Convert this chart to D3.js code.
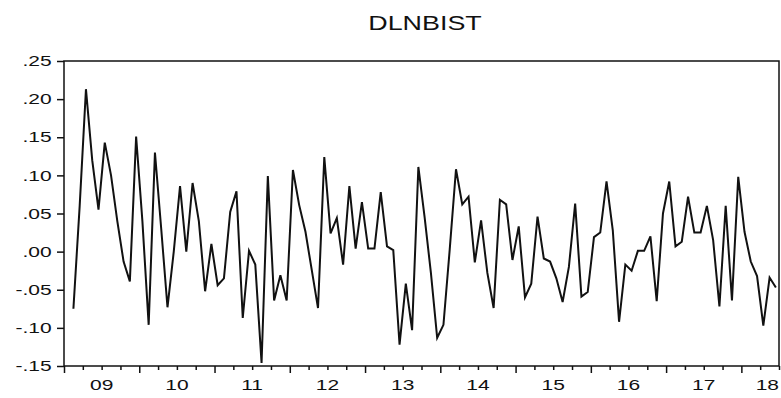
<!DOCTYPE html>
<html>
<head>
<meta charset="utf-8">
<script src="https://cdn.jsdelivr.net/npm/d3@7"></script>
<style>
  body { margin: 0; background: #fff; }
  svg { display: block; }
</style>
</head>
<body>
<div id="chart"></div>
<script>
// Chart texts
const chartTitle = 'DLNBIST'
const yearLabels = ['09', '10', '11', '12', '13', '14', '15', '16', '17', '18']
const yTickValues = [0.25, 0.20, 0.15, 0.10, 0.05, 0.00, -0.05, -0.10, -0.15]
const yTickLabels = ['.25', '.20', '.15', '.10', '.05', '.00', '-.05', '-.10', '-.15']

// Sample runs 2009M01 - 2018M06, first difference starts at 2009M02
const firstYear = 2009
const firstMonth = 1 // months counted from Jan 2009, so 1 = Feb 2009
const lastYear = 2018.5

// Monthly log return of BIST, 2009M02 .. 2018M06
const dlnbist = [
  -0.075, 0.060, 0.213, 0.120, 0.055, 0.143, 0.100, 0.040, -0.013, -0.039, 0.151,
  0.040, -0.096, 0.130, 0.030, -0.073, 0.000, 0.086, 0.000, 0.090, 0.040, -0.052, 0.010,
  -0.044, -0.035, 0.052, 0.079, -0.087, 0.001, -0.017, -0.146, 0.099, -0.064, -0.031, -0.064,
  0.107, 0.061, 0.026, -0.024, -0.074, 0.124, 0.024, 0.044, -0.017, 0.086, 0.004, 0.065,
  0.004, 0.004, 0.078, 0.007, 0.002, -0.122, -0.042, -0.103, 0.111, 0.045, -0.028, -0.113,
  -0.096, 0.003, 0.108, 0.062, 0.072, -0.014, 0.041, -0.028, -0.074, 0.068, 0.062, -0.011,
  0.033, -0.060, -0.042, 0.046, -0.009, -0.013, -0.035, -0.066, -0.020, 0.063, -0.059, -0.053,
  0.019, 0.025, 0.092, 0.028, -0.092, -0.017, -0.025, 0.001, 0.001, 0.020, -0.065, 0.050,
  0.092, 0.007, 0.013, 0.072, 0.025, 0.025, 0.060, 0.015, -0.072, 0.060, -0.064, 0.098,
  0.026, -0.013, -0.032, -0.097, -0.034, -0.047
]

const width = 781
const height = 398
const margin = { top: 61, right: 2, bottom: 32, left: 64 }
const plotW = width - margin.left - margin.right
const plotH = height - margin.top - margin.bottom
const font = '"Liberation Sans", Arial, sans-serif'

// X scale in decimal years, each month gets one equal slot
const x = d3.scaleLinear()
  .domain([firstYear, lastYear])
  .range([0, plotW])

const y = d3.scaleLinear()
  .domain([-0.15, 0.25])
  .range([plotH, 0])

const points = dlnbist.map((v, i) => ({ t: firstYear + (firstMonth + i + 0.5) / 12, v }))

const svg = d3.select('#chart')
  .append('svg')
  .attr('width', width)
  .attr('height', height)
  .attr('viewBox', [0, 0, width, height])

// Title
svg.append('text')
  .attr('transform', `translate(425,30) scale(1.28,1)`)
  .attr('text-anchor', 'middle')
  .attr('font-family', font)
  .attr('font-size', 21)
  .attr('fill', '#111')
  .text(chartTitle)

const g = svg.append('g')
  .attr('transform', `translate(${margin.left},${margin.top})`)

// Left axis, EViews style labels without leading zero
g.append('g')
  .call(d3.axisLeft(y)
    .tickValues(yTickValues)
    .tickFormat((d, i) => yTickLabels[i])
    .tickSize(7)
    .tickPadding(1.5))
  .call(g => g.select('.domain').remove())
  .call(g => g.selectAll('.tick line').attr('stroke', '#111').attr('stroke-width', 1.5))
  .call(g => g.selectAll('.tick text')
    .attr('font-family', font)
    .attr('font-size', 14.5)
    .attr('fill', '#111')
    .attr('transform', 'scale(1.45,1)'))

// Bottom axis, quarterly ticks with longer ones at year boundaries
const quarterTicks = d3.range(firstYear * 4, lastYear * 4 + 1).map(q => q / 4)
g.append('g')
  .attr('transform', `translate(0,${plotH})`)
  .call(d3.axisBottom(x).tickValues(quarterTicks).tickFormat('').tickSize(4))
  .call(g => g.select('.domain').remove())
  .call(g => g.selectAll('.tick line')
    .attr('stroke', '#111')
    .attr('stroke-width', 1.5)
    .attr('y2', d => Number.isInteger(d) ? 7 : 4))

// Year labels sit in the middle of each year, last one kept inside the frame
g.append('g')
  .selectAll('text')
  .data(yearLabels)
  .join('text')
  .attr('transform', (d, i) => {
    const last = i === yearLabels.length - 1
    const px = last ? x(lastYear) : x(firstYear + i + 0.5)
    return `translate(${px},${plotH + 24}) scale(1.4,1)`
  })
  .attr('text-anchor', (d, i) => i === yearLabels.length - 1 ? 'end' : 'middle')
  .attr('font-family', font)
  .attr('font-size', 15)
  .attr('fill', '#111')
  .text(d => d)

// Series line
g.append('path')
  .datum(points)
  .attr('fill', 'none')
  .attr('stroke', '#111')
  .attr('stroke-width', 2)
  .attr('stroke-linejoin', 'miter')
  .attr('d', d3.line().x(d => x(d.t)).y(d => y(d.v)))

// Frame round the plot
g.append('rect')
  .attr('width', plotW)
  .attr('height', plotH)
  .attr('fill', 'none')
  .attr('stroke', '#111')
  .attr('stroke-width', 1.5)
</script>
</body>
</html>
